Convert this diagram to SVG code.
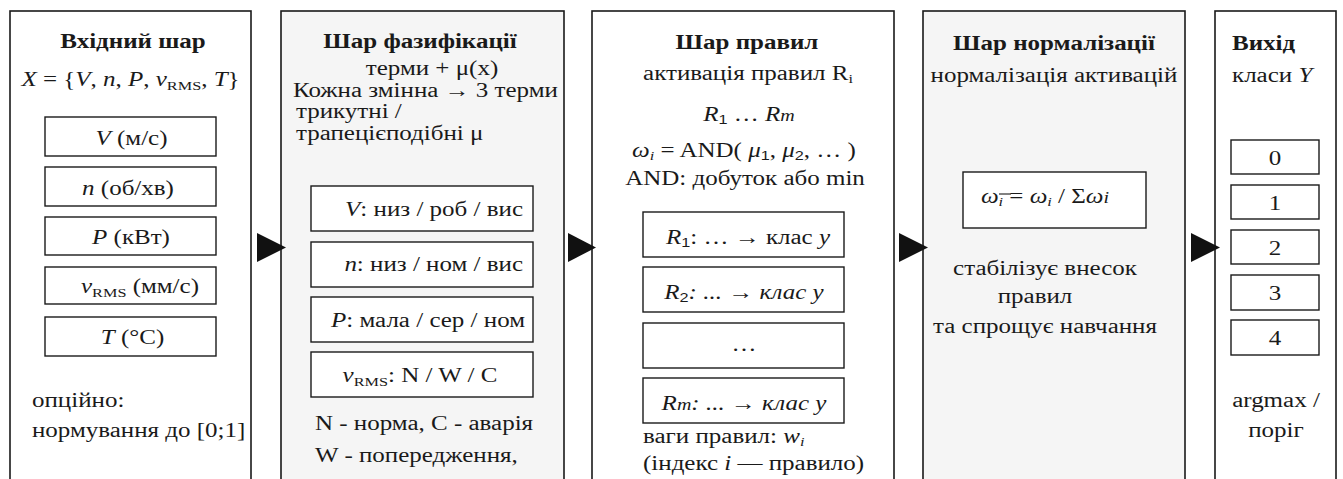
<svg xmlns="http://www.w3.org/2000/svg" width="1343" height="479" viewBox="0 0 1343 479">
<defs>
<style>
text{font-family:"Liberation Serif","Times New Roman",serif;font-size:20px;fill:#1a1a1a}
.t{font-weight:bold}
.m{text-anchor:middle}
.e{text-anchor:end}
.i{font-style:italic}
.n{font-style:normal}
.sub{font-size:13px}
.sf{font-family:"Liberation Sans",Arial,sans-serif}
.panel{stroke:#1a1a1a;stroke-width:1.6}
.w{fill:#ffffff}
.g{fill:#f5f5f5}
.box{fill:#ffffff;stroke:#1a1a1a;stroke-width:1.4}
.arrow{fill:#111111;stroke:none}
</style>
</defs>
<rect width="1343" height="479" fill="#ffffff"/>

<g id="input-layer">
<rect class="panel w" x="10" y="11" width="241" height="480"/>
<text class="t m" transform="translate(133 48) scale(1.25 1)">Вхідний шар</text>
<text class="m" transform="translate(130.5 86) scale(1.25 1)"><tspan class="i">X</tspan> = {<tspan class="i">V</tspan>, <tspan class="i">n</tspan>, <tspan class="i">P</tspan>, <tspan class="i">v</tspan><tspan class="sub" dy="4">RMS</tspan><tspan dy="-4">, </tspan><tspan class="i">T</tspan>}</text>
<rect class="box" x="45" y="117" width="171" height="39"/>
<text class="m" transform="translate(131.5 145) scale(1.25 1)"><tspan class="i">V</tspan> (м/с)</text>
<rect class="box" x="45" y="167" width="171" height="39"/>
<text class="m" transform="translate(128 195) scale(1.25 1)"><tspan class="i">n</tspan> (об/хв)</text>
<rect class="box" x="45" y="217" width="171" height="38"/>
<text class="m" transform="translate(131 244) scale(1.25 1)"><tspan class="i">P</tspan> (кВт)</text>
<rect class="box" x="45" y="267" width="171" height="37"/>
<text class="m" transform="translate(140 293) scale(1.25 1)"><tspan class="i">v</tspan><tspan class="sub" dy="4">RMS</tspan><tspan dy="-4"> (мм/с)</tspan></text>
<rect class="box" x="45" y="317" width="171" height="39"/>
<text class="m" transform="translate(132.5 344) scale(1.25 1)"><tspan class="i">T</tspan> (°C)</text>
<text transform="translate(32 407) scale(1.25 1)">опційно:</text>
<text transform="translate(32 437) scale(1.25 1)">нормування до [0;1]</text>
</g>

<g id="fuzzification-layer">
<rect class="panel g" x="281" y="11" width="283" height="480"/>
<text class="t m" transform="translate(420 48) scale(1.25 1)">Шар фазифікації</text>
<text class="m" transform="translate(432 75) scale(1.25 1)">терми + μ(x)</text>
<text transform="translate(293 97) scale(1.25 1)">Кожна змінна → 3 терми</text>
<text transform="translate(296 118) scale(1.25 1)">трикутні /</text>
<text transform="translate(296 140) scale(1.25 1)">трапецієподібні μ</text>
<rect class="box" x="311" y="186" width="222" height="45"/>
<text class="e" transform="translate(523 216) scale(1.25 1)"><tspan class="i">V</tspan>: низ / роб / вис</text>
<rect class="box" x="311" y="242" width="222" height="45"/>
<text class="e" transform="translate(523 271) scale(1.25 1)"><tspan class="i">n</tspan>: низ / ном / вис</text>
<rect class="box" x="311" y="297" width="222" height="45"/>
<text class="e" transform="translate(525 327) scale(1.25 1)"><tspan class="i">P</tspan>: мала / сер / ном</text>
<rect class="box" x="311" y="352" width="222" height="45"/>
<text class="m" transform="translate(420 382) scale(1.25 1)"><tspan class="i">v</tspan><tspan class="sub" dy="4">RMS</tspan><tspan dy="-4">: N / W / C</tspan></text>
<text transform="translate(315 430) scale(1.25 1)">N - норма, C - аварія</text>
<text transform="translate(315 462) scale(1.25 1)">W - попередження,</text>
</g>

<g id="rules-layer">
<rect class="panel w" x="592" y="11" width="302" height="480"/>
<text class="t m" transform="translate(747 49) scale(1.25 1)">Шар правил</text>
<text class="m" transform="translate(748 80) scale(1.25 1)">активація правил R<tspan class="sub" dy="3">i</tspan></text>
<text class="m" transform="translate(749 121) scale(1.25 1)"><tspan class="i">R</tspan><tspan class="sub sf" dy="3">1</tspan><tspan dy="-3"> … </tspan><tspan class="i">R</tspan><tspan class="i" font-size="16">m</tspan></text>
<text class="m" transform="translate(744 157) scale(1.25 1)"><tspan class="i">ω</tspan><tspan class="i sub" dy="3">i</tspan><tspan dy="-3"> = AND( </tspan><tspan class="i">μ</tspan><tspan class="sub sf" dy="3">1</tspan><tspan dy="-3">, </tspan><tspan class="i">μ</tspan><tspan class="sub sf" dy="3">2</tspan><tspan dy="-3">, … )</tspan></text>
<text class="m" transform="translate(745 185) scale(1.25 1)">AND: добуток або min</text>
<rect class="box" x="643" y="212" width="201" height="45"/>
<text class="m" transform="translate(748 244) scale(1.25 1)"><tspan class="i">R</tspan><tspan class="sub sf" dy="3">1</tspan><tspan dy="-3">: … → клас </tspan><tspan class="i">y</tspan></text>
<rect class="box" x="643" y="267" width="201" height="45"/>
<text class="m i" transform="translate(744 299) scale(1.25 1)">R<tspan class="sub sf n" dy="3">2</tspan><tspan dy="-3">: ... → клас y</tspan></text>
<rect class="box" x="643" y="323" width="201" height="45"/>
<text class="m" transform="translate(744 351) scale(1.25 1)">…</text>
<rect class="box" x="643" y="378" width="201" height="45"/>
<text class="m i" transform="translate(744 410) scale(1.25 1)">R<tspan font-size="16">m</tspan>: ... → клас y</text>
<text transform="translate(643 443) scale(1.25 1)">ваги правил: <tspan class="i">w</tspan><tspan class="i sub" dy="3">i</tspan></text>
<text transform="translate(643 470) scale(1.25 1)">(індекс <tspan class="i">i</tspan> — правило)</text>
</g>

<g id="normalization-layer">
<rect class="panel g" x="923" y="11" width="262" height="480"/>
<text class="t m" transform="translate(1054 50) scale(1.25 1)">Шар нормалізації</text>
<text class="m" transform="translate(1054 82) scale(1.25 1)">нормалізація активацій</text>
<rect class="box" x="963" y="172" width="183" height="56"/>
<text class="m" transform="translate(1045 203) scale(1.25 1)"><tspan class="i">ω</tspan><tspan class="i sub" dy="3">i</tspan><tspan dy="-3"> = </tspan><tspan class="i">ω</tspan><tspan class="i sub" dy="3">i</tspan><tspan dy="-3"> / Σ</tspan><tspan class="i">ω</tspan><tspan class="i" font-size="16">i</tspan></text>
<line x1="999" y1="194" x2="1011" y2="194" stroke="#1a1a1a" stroke-width="1.1"/>
<text class="m" transform="translate(1045 275) scale(1.25 1)">стабілізує внесок</text>
<text class="m" transform="translate(1035 303) scale(1.25 1)">правил</text>
<text class="m" transform="translate(1045 333) scale(1.25 1)">та спрощує навчання</text>
</g>

<g id="output-layer">
<rect class="panel w" x="1215" y="11" width="121" height="480"/>
<text class="t" transform="translate(1232 50) scale(1.25 1)">Вихід</text>
<text transform="translate(1232 82) scale(1.25 1)">класи <tspan class="i">Y</tspan></text>
<rect class="box" x="1231" y="140" width="88" height="34"/>
<text class="m" transform="translate(1275 165) scale(1.25 1)">0</text>
<rect class="box" x="1231" y="185" width="88" height="34"/>
<text class="m" transform="translate(1275 210) scale(1.25 1)">1</text>
<rect class="box" x="1231" y="230" width="88" height="34"/>
<text class="m" transform="translate(1275 255) scale(1.25 1)">2</text>
<rect class="box" x="1231" y="275" width="88" height="35"/>
<text class="m" transform="translate(1275 300) scale(1.25 1)">3</text>
<rect class="box" x="1231" y="320" width="88" height="35"/>
<text class="m" transform="translate(1275 345) scale(1.25 1)">4</text>
<text class="m" transform="translate(1276 407) scale(1.25 1)">argmax /</text>
<text class="m" transform="translate(1276 437) scale(1.25 1)">поріг</text>
</g>

<g id="connectors">
<path class="arrow" d="M257 233 L286 247.5 L257 262 Z"/>
<path class="arrow" d="M568 233 L596 247.5 L568 262 Z"/>
<path class="arrow" d="M899 233 L928 247.5 L899 262 Z"/>
<path class="arrow" d="M1191 233 L1220 247.5 L1191 262 Z"/>
</g>
</svg>
